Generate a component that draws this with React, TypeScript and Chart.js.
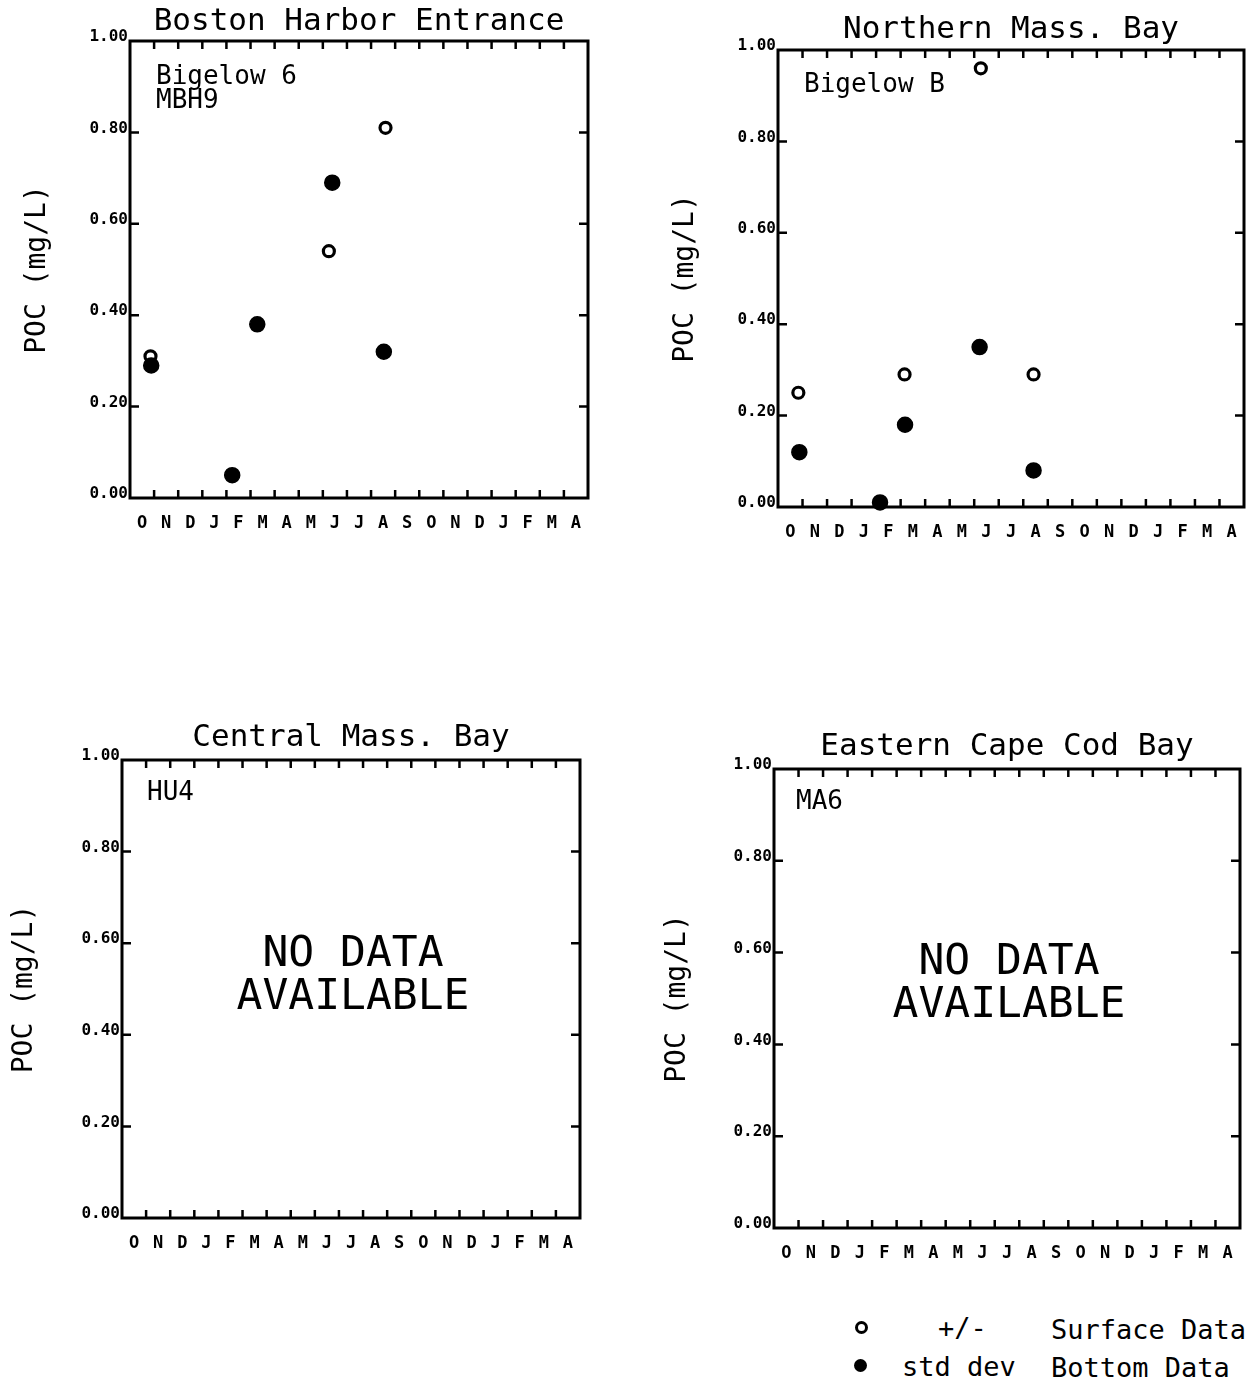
import React, { useEffect, useRef } from 'react';
import { Chart, registerables } from 'chart.js';

Chart.register(...registerables);

const FONT = "'DejaVu Sans Mono', 'Liberation Mono', monospace";

// Month axis: Oct through the following April (19 months)
const MONTHS = ['O', 'N', 'D', 'J', 'F', 'M', 'A', 'M', 'J', 'J', 'A', 'S', 'O', 'N', 'D', 'J', 'F', 'M', 'A'];
const Y_TICKS = [0, 0.2, 0.4, 0.6, 0.8, 1.0];

// Boston Harbor Entrance (Bigelow 6 / MBH9); x = months since start of October
const bostonSurfaceMonth = [0.85, 8.25, 10.6];
const bostonSurfacePoc = [0.31, 0.54, 0.81];
const bostonBottomMonth = [0.88, 4.24, 5.28, 8.39, 10.53];
const bostonBottomPoc = [0.29, 0.05, 0.38, 0.69, 0.32];

// Northern Mass. Bay (Bigelow B)
const northSurfaceMonth = [0.83, 5.16, 8.27, 10.42];
const northSurfacePoc = [0.25, 0.29, 0.96, 0.29];
const northBottomMonth = [0.87, 4.16, 5.18, 8.22, 10.42];
const northBottomPoc = [0.12, 0.01, 0.18, 0.35, 0.08];

// Central Mass. Bay (HU4) and Eastern Cape Cod Bay (MA6): no samples
const emptyMonth: number[] = [];
const emptyPoc: number[] = [];

const zip = (xs: number[], ys: number[]) => xs.map((x, i) => ({ x, y: ys[i] }));

type Note = { text: string; dx: number; dy: number; size: number; center?: boolean };

const framePlugin = {
  id: 'frame',
  beforeDatasetsDraw(chart: any, _args: any, opts: any) {
    const { ctx, chartArea: a, scales } = chart;
    ctx.save();
    ctx.strokeStyle = '#000';
    ctx.lineWidth = 3;
    ctx.strokeRect(a.left, a.top, a.right - a.left, a.bottom - a.top);
    ctx.lineWidth = 2.5;
    ctx.beginPath();
    for (let m = 1; m < MONTHS.length; m++) {
      const x = scales.x.getPixelForValue(m);
      ctx.moveTo(x, a.top);
      ctx.lineTo(x, a.top + 8);
      ctx.moveTo(x, a.bottom);
      ctx.lineTo(x, a.bottom - 8);
    }
    for (const v of Y_TICKS.slice(1, -1)) {
      const y = scales.y.getPixelForValue(v);
      ctx.moveTo(a.left, y);
      ctx.lineTo(a.left + 9, y);
      ctx.moveTo(a.right, y);
      ctx.lineTo(a.right - 9, y);
    }
    ctx.stroke();
    ctx.fillStyle = '#000';
    ctx.textBaseline = 'middle';
    const notes: Note[] = (opts && opts.notes) || [];
    for (const n of notes) {
      ctx.font = `${n.size}px ${FONT}`;
      if (n.center) {
        ctx.textAlign = 'center';
        ctx.fillText(n.text, (a.left + a.right) / 2 + n.dx, a.top + n.dy);
      } else {
        ctx.textAlign = 'left';
        ctx.fillText(n.text, a.left + n.dx, a.top + n.dy);
      }
    }
    ctx.restore();
  },
};

type PanelProps = {
  title: string;
  surfaceMonth: number[];
  surfacePoc: number[];
  bottomMonth: number[];
  bottomPoc: number[];
  notes: Note[];
  canvas: { left: number; top: number; width: number; height: number };
  area: { left: number; top: number; right: number; bottom: number };
  titleY: number;
  yTitleX: number;
};

function Panel(p: PanelProps) {
  const ref = useRef<HTMLCanvasElement | null>(null);

  useEffect(() => {
    if (!ref.current) return;
    const c = p.canvas;
    const a = p.area;
    const titleSize = 31;
    const yTitleSize = 28;
    const padLeft = p.yTitleX - c.left - yTitleSize / 2;
    const yWidth = a.left - c.left - padLeft;
    const padRight = c.left + c.width - a.right;
    const titleTop = p.titleY - c.top - titleSize / 2;
    const titleBottom = a.top - c.top - titleTop - titleSize;
    const xHeight = c.top + c.height - a.bottom;

    const chart = new Chart(ref.current, {
      type: 'scatter',
      data: {
        datasets: [
          {
            label: 'Bottom Data',
            data: zip(p.bottomMonth, p.bottomPoc),
            pointStyle: 'circle',
            pointRadius: 7.5,
            backgroundColor: '#000',
            borderColor: '#000',
            borderWidth: 1.5,
            order: 0,
            clip: false,
          },
          {
            label: 'Surface Data',
            data: zip(p.surfaceMonth, p.surfacePoc),
            pointStyle: 'circle',
            pointRadius: 5.5,
            backgroundColor: '#fff',
            borderColor: '#000',
            borderWidth: 3.2,
            order: 1,
            clip: false,
          },
        ],
      },
      options: {
        responsive: false,
        animation: false,
        events: [],
        layout: { padding: { left: padLeft, right: padRight, top: 0, bottom: 0 } },
        plugins: {
          legend: { display: false },
          tooltip: { enabled: false },
          title: {
            display: true,
            text: p.title,
            fullSize: false,
            color: '#000',
            font: { family: FONT, size: titleSize, weight: 'normal', lineHeight: 1 },
            padding: { top: titleTop, bottom: titleBottom },
          },
          frame: { notes: p.notes },
        } as any,
        scales: {
          x: {
            type: 'linear',
            min: 0,
            max: MONTHS.length,
            grid: { display: false, drawTicks: false },
            border: { display: false },
            afterBuildTicks: (s: any) => {
              s.ticks = MONTHS.map((_m, i) => ({ value: i + 0.5 }));
            },
            afterFit: (s: any) => {
              s.height = xHeight;
            },
            ticks: {
              autoSkip: false,
              maxRotation: 0,
              minRotation: 0,
              padding: 15,
              color: '#000',
              font: { family: FONT, size: 17, weight: 'bold' },
              callback: (_v: any, i: number) => MONTHS[i],
            },
          },
          y: {
            type: 'linear',
            min: 0,
            max: 1,
            grid: { display: false, drawTicks: false },
            border: { display: false },
            afterBuildTicks: (s: any) => {
              s.ticks = Y_TICKS.map((v) => ({ value: v }));
            },
            afterFit: (s: any) => {
              s.width = yWidth;
            },
            ticks: {
              padding: 2,
              labelOffset: -4,
              color: '#000',
              font: { family: FONT, size: 16, weight: 'bold' },
              callback: (v: any) => Number(v).toFixed(2),
            },
            title: {
              display: true,
              text: 'POC (mg/L)',
              color: '#000',
              padding: 0,
              font: { family: FONT, size: yTitleSize, lineHeight: 1 },
            },
          },
        },
      },
      plugins: [framePlugin],
    } as any);
    return () => chart.destroy();
  }, []);

  return (
    <canvas
      ref={ref}
      width={p.canvas.width}
      height={p.canvas.height}
      style={{
        position: 'absolute',
        left: p.canvas.left,
        top: p.canvas.top,
        width: p.canvas.width,
        height: p.canvas.height,
      }}
    />
  );
}

const noData = (dy: number): Note[] => [
  { text: 'NO DATA', dx: 2, dy, size: 43, center: true },
  { text: 'AVAILABLE', dx: 2, dy: dy + 43, size: 43, center: true },
];

const legendText: React.CSSProperties = {
  position: 'absolute',
  fontFamily: FONT,
  fontSize: 27,
  lineHeight: '30px',
  color: '#000',
  whiteSpace: 'pre',
};

export default function App() {
  return (
    <div style={{ position: 'absolute', left: 0, top: 0, width: 1259, height: 1384, background: '#fff' }}>
      <Panel
        title="Boston Harbor Entrance"
        surfaceMonth={bostonSurfaceMonth}
        surfacePoc={bostonSurfacePoc}
        bottomMonth={bostonBottomMonth}
        bottomPoc={bostonBottomPoc}
        notes={[
          { text: 'Bigelow 6', dx: 26, dy: 36, size: 26 },
          { text: 'MBH9', dx: 26, dy: 60, size: 26 },
        ]}
        canvas={{ left: 0, top: 0, width: 625, height: 560 }}
        area={{ left: 130, top: 41, right: 588, bottom: 498 }}
        titleY={22}
        yTitleX={38}
      />
      <Panel
        title="Northern Mass. Bay"
        surfaceMonth={northSurfaceMonth}
        surfacePoc={northSurfacePoc}
        bottomMonth={northBottomMonth}
        bottomPoc={northBottomPoc}
        notes={[{ text: 'Bigelow B', dx: 26, dy: 35, size: 26 }]}
        canvas={{ left: 640, top: 0, width: 619, height: 570 }}
        area={{ left: 778, top: 50, right: 1244, bottom: 507 }}
        titleY={30}
        yTitleX={686}
      />
      <Panel
        title="Central Mass. Bay"
        surfaceMonth={emptyMonth}
        surfacePoc={emptyPoc}
        bottomMonth={emptyMonth}
        bottomPoc={emptyPoc}
        notes={[{ text: 'HU4', dx: 25, dy: 33, size: 26 }, ...noData(195)]}
        canvas={{ left: 0, top: 690, width: 625, height: 600 }}
        area={{ left: 122, top: 760, right: 580, bottom: 1218 }}
        titleY={738}
        yTitleX={25}
      />
      <Panel
        title="Eastern Cape Cod Bay"
        surfaceMonth={emptyMonth}
        surfacePoc={emptyPoc}
        bottomMonth={emptyMonth}
        bottomPoc={emptyPoc}
        notes={[{ text: 'MA6', dx: 22, dy: 33, size: 26 }, ...noData(194)]}
        canvas={{ left: 640, top: 690, width: 619, height: 600 }}
        area={{ left: 774, top: 769, right: 1240, bottom: 1228 }}
        titleY={747}
        yTitleX={678}
      />

      {/* Marker key */}
      <div
        style={{
          position: 'absolute',
          left: 855,
          top: 1321,
          width: 7,
          height: 7,
          border: '3px solid #000',
          borderRadius: '50%',
          background: '#fff',
        }}
      />
      <div
        style={{
          position: 'absolute',
          left: 854,
          top: 1359,
          width: 13,
          height: 13,
          borderRadius: '50%',
          background: '#000',
        }}
      />
      <div style={{ ...legendText, left: 938, top: 1313 }}>+/-</div>
      <div style={{ ...legendText, left: 902, top: 1352 }}>std dev</div>
      <div style={{ ...legendText, left: 1051, top: 1315 }}>Surface Data</div>
      <div style={{ ...legendText, left: 1051, top: 1353 }}>Bottom Data</div>
    </div>
  );
}
